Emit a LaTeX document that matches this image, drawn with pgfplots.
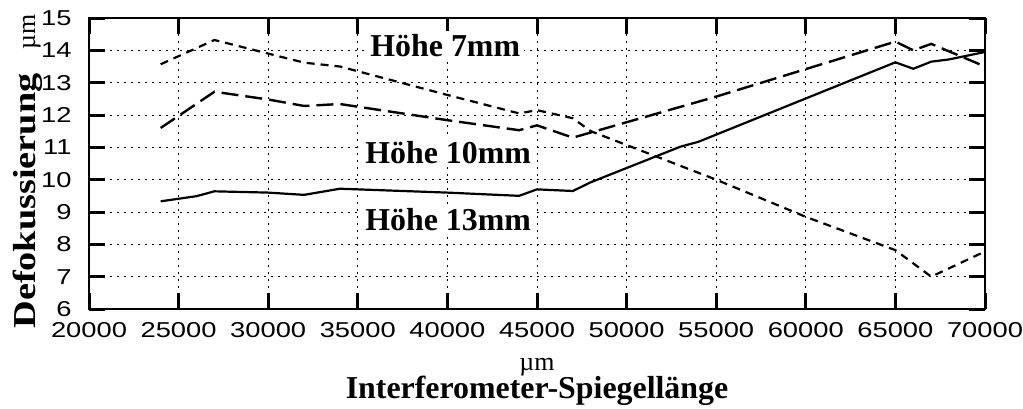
\documentclass[border=0pt]{standalone}
\usepackage{fontspec}
\usepackage{pgfplots}
\pgfplotsset{compat=1.18}
\setmainfont{Liberation Serif}
\newfontfamily\tickfont{Liberation Sans}[FakeStretch=1.27]
\newfontfamily\ylabfont{Liberation Serif}[FakeStretch=1.2]
\tikzset{height label/.style={anchor=base west, fill=white, inner sep=2bp,
    font=\bfseries\fontsize{16}{18}\selectfont}}

\begin{document}
\begin{tikzpicture}
\begin{axis}[
  scale only axis, width=448bp, height=145.5bp,
  xmin=20000, xmax=70000, ymin=6, ymax=15,
  xtick={20000,25000,...,70000}, ytick={6,7,...,15},
  scaled x ticks=false,
  /pgf/number format/1000 sep={},
  /pgf/number format/assume math mode=true,
  tick align=inside, major tick length=8bp,
  tick style={line width=1.5bp, black},
  axis line style={line width=1.4bp},
  grid=major,
  major grid style={line width=0.5bp, black, dash pattern=on 1bp off 2.5bp},
  ticklabel style={font=\tickfont\fontsize{10.8}{12}\selectfont, inner sep=0pt},
  xticklabel style={yshift=-6.5bp},
  yticklabel style={xshift=-8.5bp},
]
% Hoehe 7mm
\addplot[black, line width=1.1bp, dash pattern=on 4bp off 3bp] coordinates {
  (24000,13.57) (27000,14.32) (30000,13.9) (32000,13.62) (34000,13.5)
  (40000,12.62) (44000,12.05) (45000,12.15) (47000,11.9) (48000,11.5)
  (55000,10.0) (60000,8.85) (65000,7.82) (67000,7.0) (70000,7.78)
};
% Hoehe 10mm
\addplot[black, line width=1.2bp, dash pattern=on 8.5bp off 3.5bp] coordinates {
  (24000,11.6) (27000,12.72) (30000,12.48) (32000,12.28) (34000,12.34)
  (40000,11.84) (44000,11.53) (45000,11.68) (47000,11.3) (55000,12.57)
  (65000,14.27) (66000,14.0) (67000,14.2) (70000,13.5)
};
% Hoehe 13mm
\addplot[black, line width=1.1bp] coordinates {
  (24000,9.33) (26000,9.49) (27000,9.64) (30000,9.6) (32000,9.53)
  (34000,9.72) (40000,9.6) (44000,9.5) (45000,9.7) (47000,9.65)
  (48000,9.92) (53000,11.02) (54000,11.17) (65000,13.63) (66000,13.43)
  (67000,13.65) (68000,13.72) (70000,13.95)
};
\node[height label] at (axis cs:35460,13.8) {Höhe 7mm};
\node[height label] at (axis cs:35180,10.51) {Höhe 10mm};
\node[height label] at (axis cs:35180,8.44) {Höhe 13mm};
\end{axis}
\node[rotate=90, anchor=base, inner sep=0pt] at (-27bp,68.75bp)
  {{\ylabfont\bfseries\fontsize{16}{18}\selectfont Defokussierung}\hspace{12bp}{\fontsize{13}{15}\selectfont µm}};
\node[anchor=base, inner sep=0pt] at (224bp,-30.5bp) {\fontsize{13}{15}\selectfont µm};
\node[anchor=base, inner sep=0pt, font=\bfseries\fontsize{16}{18}\selectfont] at (224bp,-44.5bp)
  {Interferometer-Spiegellänge};
\pgfresetboundingbox
\useasboundingbox (-44.5bp,-50bp) rectangle (467bp,154.5bp);
\end{tikzpicture}
\end{document}
